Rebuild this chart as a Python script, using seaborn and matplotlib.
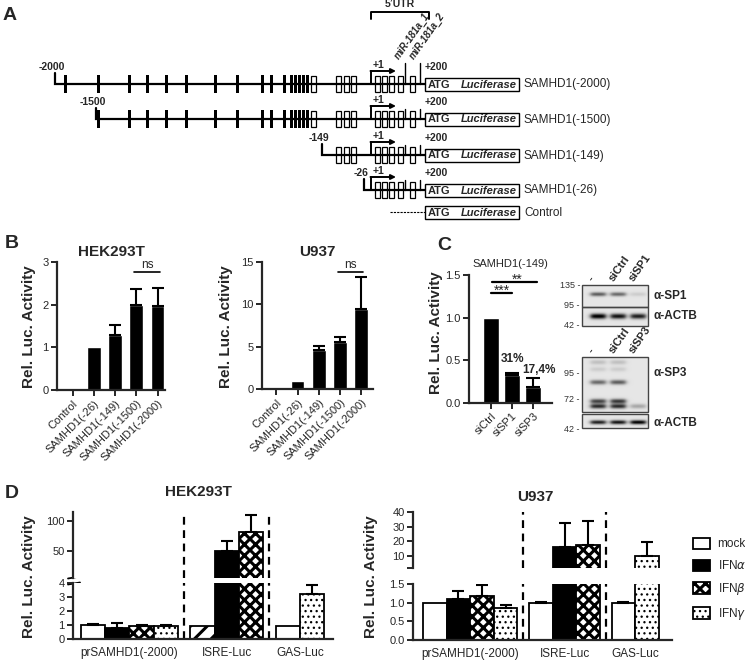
# %%
import numpy as np
import pandas as pd
import matplotlib
matplotlib.use("Agg")
import matplotlib.pyplot as plt
import seaborn as sns
from matplotlib.patches import Rectangle, Patch

# %%
# A - promoter constructs
a_constructs = ["SAMHD1(-2000)", "SAMHD1(-1500)", "SAMHD1(-149)", "SAMHD1(-26)"]
a_start = ["-2000", "-1500", "-149", "-26"]

# B - luciferase activity of the constructs
b_constructs = ["Control", "SAMHD1(-26)", "SAMHD1(-149)", "SAMHD1(-1500)", "SAMHD1(-2000)"]
b_hek = [0.02, 1.0, 1.3, 2.0, 1.98]
b_hek_err = [0.0, 0.0, 0.22, 0.37, 0.4]
b_u937 = [0.15, 0.95, 4.6, 5.55, 9.4]
b_u937_err = [0.0, 0.0, 0.45, 0.55, 3.8]

# C - siRNA knockdown
c_sirna = ["siCtrl", "siSP1", "siSP3"]
c_vals = [1.0, 0.33, 0.19]
c_err = [0.0, 0.02, 0.1]
c_pct = ["", "31%", "17,4%"]

# C - western blots (band intensity per lane)
blot1_lanes = ["-", "siCtrl", "siSP1"]
blot2_lanes = ["-", "siCtrl", "siSP3"]
sp1_int = [[0.55, 0.5, 0.1]]
actb1_int = [[0.95, 0.85, 0.8]]
sp3_int = [[0.15, 0.15, 0.0], [0.1, 0.1, 0.0], [0.5, 0.55, 0.0], [0.65, 0.7, 0.0], [0.75, 0.75, 0.25]]
actb2_int = [[0.8, 0.85, 0.95]]

# D - IFN stimulation
d_groups = ["prSAMHD1(-2000)", "ISRE-Luc", "GAS-Luc"]
d_reporter = ["prSAMHD1(-2000)"] * 4 + ["ISRE-Luc"] * 3 + ["GAS-Luc"] * 2
d_treatment = ["mock", "IFNa", "IFNb", "IFNg", "mock", "IFNa", "IFNb", "mock", "IFNg"]
d_hek = [1.0, 0.82, 0.92, 0.92, 0.95, 50, 82, 0.95, 3.25]
d_hek_err = [0.07, 0.33, 0.06, 0.05, 0.0, 16, 28, 0.0, 0.6]
d_u937 = [1.0, 1.1, 1.17, 0.86, 1.0, 16, 17.5, 1.0, 9.5]
d_u937_err = [0.0, 0.22, 0.3, 0.07, 0.02, 16.5, 16.5, 0.02, 10.2]
legend_labels = ["mock", r"IFN$\alpha$", r"IFN$\beta$", r"IFN$\gamma$"]

# %%
sns.set_style("ticks")
plt.rcParams["font.family"] = ["Liberation Sans", "DejaVu Sans"]
plt.rcParams["hatch.linewidth"] = 2.2

W, H = 745, 662
fig = plt.figure(figsize=(W / 100, H / 100), dpi=100)

def px_axes(x0, y0, x1, y1):
    return fig.add_axes([x0 / W, 1 - y1 / H, (x1 - x0) / W, (y1 - y0) / H])

ov = fig.add_axes([0, 0, 1, 1])
ov.axis("off")

def style_ax(ax):
    for s in ["left", "bottom"]:
        ax.spines[s].set_linewidth(1.6)
    sns.despine(ax=ax)
    ax.tick_params(width=1.4, length=4, labelsize=8, pad=2)
    ax.set_xlabel("")
    ax.set_ylabel("")

def add_err(ax, x, vals, errs, cap=3.5, keep=None):
    x = np.asarray(x, float); v = np.asarray(vals, float); e = np.asarray(errs, float)
    m = e > 0
    if keep is not None:
        m &= keep
    if m.any():
        ax.errorbar(x[m], v[m], yerr=[np.zeros(m.sum()), e[m]], fmt="none", ecolor="black",
                    elinewidth=1.5, capsize=cap, capthick=1.5, zorder=1)

# %% [markdown]
# A - diagram

# %%
rows_y = [84, 119, 155, 190]
start_x = [55, 96, 322, 364]
black_x = [65, 98, 129, 147, 166, 186, 215, 237, 262, 271, 284, 291, 295, 299, 303, 307]
white_x = [313, 338, 346, 353]
utr_x = [377, 384, 391, 400, 412]
mir_x = [405, 420]
luc_x0, luc_x1 = 425, 519
bold = dict(fontweight="bold", fontsize=7.5)

def luc_box(y, label):
    ov.add_patch(Rectangle((luc_x0, y - 6.5), luc_x1 - luc_x0, 13, fc="white", ec="black", lw=1))
    ov.text(luc_x0 + 3, y + 0.5, "ATG", va="center", ha="left", fontweight="bold", fontsize=8)
    ov.text(luc_x1 - 2, y + 0.5, "Luciferase", va="center", ha="right", fontweight="bold",
            fontstyle="italic", fontsize=8)
    ov.text(luc_x1 + 5, y + 0.5, label, va="center", ha="left", fontsize=8.5)

for i, y in enumerate(rows_y):
    sx = start_x[i]
    ov.plot([sx, sx, luc_x0], [y - 11, y, y], color="black", lw=1.6, solid_joinstyle="miter")
    ov.text(sx - 3, y - 12, a_start[i], ha="center", va="bottom", **bold)
    for x in black_x:
        if x > sx:
            ov.add_patch(Rectangle((x - 1.5, y - 9), 3.0, 18, fc="black", ec="none"))
    for x in white_x + utr_x:
        if x > sx:
            ov.add_patch(Rectangle((x - 2.5, y - 8), 5, 16, fc="white", ec="black", lw=0.9))
    top = y - 21 if i == 0 else y - 10
    for x in mir_x:
        ov.plot([x, x], [top, y], color="black", lw=1)
    ov.plot([371, 371], [y, y - 13], color="black", lw=1.4)
    ov.annotate("", xy=(396, y - 13), xytext=(370.5, y - 13),
                arrowprops=dict(arrowstyle="-|>", lw=1.4, color="black", mutation_scale=7,
                                shrinkA=0, shrinkB=0))
    ov.text(373, y - 14, "+1", ha="left", va="bottom", **bold)
    ov.text(luc_x0, y - 12, "+200", ha="left", va="bottom", **bold)
    luc_box(y, a_constructs[i])

ov.plot([390, luc_x0], [212, 212], color="black", lw=0.8, ls=(0, (2, 1)))
luc_box(212, "Control")

ov.plot([371, 371, 429, 429], [19, 12, 12, 19], color="black", lw=1.4)
ov.text(400, 9, "5\u2019UTR", ha="center", va="bottom", **bold)
for x, s in zip(mir_x, ["miR-181a_1", "miR-181a_2"]):
    ov.text(x - 4, 61, s, rotation=55, rotation_mode="anchor", ha="left",
            va="bottom", fontsize=7, fontweight="bold", fontstyle="italic")

# %% [markdown]
# B - bar charts

# %%
def draw_b(box, vals, errs, ylim, yticks, xlim, title):
    ax = px_axes(*box)
    df = pd.DataFrame({"construct": b_constructs, "val": vals})
    sns.barplot(data=df, x="construct", y="val", color="black", saturation=1, width=0.65,
                errorbar=None, ax=ax)
    add_err(ax, range(len(vals)), vals, errs, cap=4)
    ax.set_ylim(*ylim)
    ax.set_yticks(yticks)
    ax.set_xlim(*xlim)
    style_ax(ax)
    ax.set_xticks(range(len(vals)))
    ax.set_xticklabels(b_constructs, rotation=45, ha="right", rotation_mode="anchor")
    ax.set_title(title, fontsize=11, fontweight="bold", pad=4)
    return ax

ax_bh = draw_b((57, 262, 165, 390), b_hek, b_hek_err, (0, 3), [0, 1, 2, 3], (-0.74, 4.35), "HEK293T")
ax_bh.plot([2.9, 4.1], [2.77, 2.77], color="black", lw=1.2)
ax_bh.text(3.5, 2.8, "ns", ha="center", va="bottom", fontsize=8.5)

ax_bu = draw_b((262, 262, 373, 389), b_u937, b_u937_err, (0, 15), [0, 5, 10, 15], (-0.67, 4.55), "U937")
ax_bu.plot([2.9, 4.1], [13.8, 13.8], color="black", lw=1.2)
ax_bu.text(3.5, 13.95, "ns", ha="center", va="bottom", fontsize=8.5)

ylab = dict(fontsize=11, fontweight="bold", rotation=90, ha="center", va="center")
ov.text(29, 327, "Rel. Luc. Activity", **ylab)
ov.text(226, 327, "Rel. Luc. Activity", **ylab)

# %% [markdown]
# C - siRNA + blots

# %%
ax_c = px_axes(469, 275, 552, 403)
dfc = pd.DataFrame({"sirna": c_sirna, "val": c_vals})
sns.barplot(data=dfc, x="sirna", y="val", color="black", saturation=1, width=0.8, errorbar=None, ax=ax_c)
add_err(ax_c, range(3), c_vals, c_err, cap=5)
ax_c.set_ylim(0, 1.5)
ax_c.set_yticks([0, 0.5, 1.0, 1.5])
ax_c.set_yticklabels(["0.0", "0.5", "1.0", "1.5"])
ax_c.set_xlim(-1.05, 2.9)
style_ax(ax_c)
ax_c.set_xticks(range(3))
ax_c.set_xticklabels(c_sirna, rotation=45, ha="right", rotation_mode="anchor")
ax_c.set_title("SAMHD1(-149)", fontsize=8, pad=6)
pct = dict(fontsize=8.5, fontweight="bold", va="bottom")
ax_c.text(1, c_vals[1] + c_err[1] + 0.1, c_pct[1], ha="center", **pct)
ax_c.text(2.3, c_vals[2] + c_err[2] + 0.03, c_pct[2], ha="center", **pct)
ax_c.plot([0, 1], [1.29, 1.29], color="black", lw=1.6, clip_on=False)
ax_c.text(0.5, 1.27, "***", ha="center", va="baseline", fontsize=10, clip_on=False)
ax_c.plot([0.05, 2.2], [1.42, 1.42], color="black", lw=1.6, clip_on=False)
ax_c.text(1.25, 1.40, "**", ha="center", va="baseline", fontsize=10, clip_on=False)
ov.text(436, 333, "Rel. Luc. Activity", **ylab)

def blot(x0, x1, y0, y1, band_y, ints, sig):
    xs = np.arange(x0, x1, 0.5)
    ys = np.arange(y0, y1, 0.5)
    X, Y = np.meshgrid(xs, ys)
    img = np.full(X.shape, 0.1)
    for yc, row in zip(band_y, ints):
        for j, v in enumerate(row):
            xc = x0 + 16 + 20 * j
            px = 1 / (1 + np.exp((np.abs(X - xc) - 7.5) / 1.3))
            img += v * np.exp(-((Y - yc) / sig) ** 2) * px
    ov.imshow(np.clip(img, 0, 1), cmap="gray_r", vmin=0, vmax=1, extent=(x0, x1, y1, y0),
              aspect="auto", interpolation="bilinear")
    ov.add_patch(Rectangle((x0, y0), x1 - x0, y1 - y0, fill=False, ec="#444444", lw=1))

blot(582, 648, 285, 307, [294], sp1_int, 2.0)
blot(582, 648, 307, 326, [316], actb1_int, 2.6)
blot(582, 648, 357, 412, [362, 369, 382, 401, 406], sp3_int, 2.3)
blot(582, 648, 414, 428, [422], actb2_int, 2.0)

mk = dict(fontsize=6.5, ha="right", va="center", color="#333333")
for y, s in [(285, "135 -"), (305, "95 -"), (326, "42 -"), (373, "95 -"), (400, "72 -"), (430, "42 -")]:
    ov.text(580, y, s, **mk)
for j, s in enumerate(blot1_lanes):
    ov.text(582 + 16 + 20 * j - 3, 283, s, rotation=55, rotation_mode="anchor", ha="left",
            va="bottom", fontsize=8, fontweight="bold")
for j, s in enumerate(blot2_lanes):
    ov.text(582 + 16 + 20 * j - 3, 355, s, rotation=55, rotation_mode="anchor", ha="left",
            va="bottom", fontsize=8, fontweight="bold")
ab = dict(fontsize=8.5, fontweight="bold", ha="left", va="center")
ov.text(653, 296, "\u03b1-SP1", **ab)
ov.text(653, 316, "\u03b1-ACTB", **ab)
ov.text(653, 373, "\u03b1-SP3", **ab)
ov.text(653, 423, "\u03b1-ACTB", **ab)

# %% [markdown]
# D - IFN stimulation, broken y axis

# %%
styles = {
    "mock": ("white", ""),
    "IFNa": ("black", ""),
    "IFNb": ("white", "xxx"),
    "IFNg": ("white", "..."),
    "stripe": ("white", "//"),
}
group_idx = np.array([d_groups.index(r) for r in d_reporter])
pos = np.arange(len(d_reporter)) + 0.5 * group_idx
centers = [pos[group_idx == g].mean() for g in range(len(d_groups))]
seps = [(pos[group_idx == g].max() + pos[group_idx == g + 1].min()) / 2 for g in range(len(d_groups) - 1)]

def set_style(p, key):
    fc, hatch = styles[key]
    p.set_facecolor(fc)
    p.set_edgecolor("black")
    p.set_hatch(hatch)
    if hasattr(p, "set_hatch_linewidth"):
        p.set_hatch_linewidth(0.9 if hatch == "..." else 2.2)

def draw_d(top_box, bot_box, vals, errs, keys, xlim, top_lim, top_ticks, top_labels,
           bot_lim, bot_ticks, bot_labels):
    ax_t = px_axes(*top_box)
    ax_b = px_axes(*bot_box)
    df = pd.DataFrame({"pos": pos, "val": vals})
    v = np.asarray(vals, float)
    for ax, keep in ((ax_t, v >= top_lim[0]), (ax_b, v <= bot_lim[1])):
        sns.barplot(data=df, x="pos", y="val", native_scale=True, width=1, color="white",
                    saturation=1, errorbar=None, linewidth=1.3, edgecolor="black", ax=ax)
        for p, k, val in zip(ax.patches, keys, v):
            set_style(p, k)
            if ax is ax_t and val < top_lim[0]:
                p.set_visible(False)
        add_err(ax, pos, vals, errs, cap=4, keep=keep)
        for s in seps:
            ax.axvline(s, color="black", lw=1.6, ls=(0, (3.5, 2.5)))
        ax.set_xlim(*xlim)
        style_ax(ax)
    ax_t.set_ylim(*top_lim)
    ax_t.set_yticks(top_ticks)
    ax_t.set_yticklabels(top_labels)
    ax_t.spines["bottom"].set_visible(False)
    ax_t.tick_params(axis="x", bottom=False, labelbottom=False)
    ax_b.set_ylim(*bot_lim)
    ax_b.set_yticks(bot_ticks)
    ax_b.set_yticklabels(bot_labels)
    ax_b.set_xticks(centers)
    ax_b.set_xticklabels(d_groups, fontsize=8.5)
    ax_b.tick_params(axis="x", length=0, pad=6)
    return ax_t, ax_b

hek_keys = list(d_treatment)
hek_keys[4] = "stripe"
draw_d((73, 512, 333, 578), (73, 583, 333, 639), d_hek, d_hek_err, hek_keys, (-0.82, 9.86),
       (5, 115), [50, 100], ["50", "100"], (0, 4), [0, 1, 2, 3, 4], ["0", "1", "2", "3", "4"])
draw_d((413, 512, 672, 568), (413, 584, 672, 640), d_u937, d_u937_err, d_treatment, (-0.93, 10.06),
       (1.5, 40), [1.5, 10, 20, 30, 40], ["", "10", "20", "30", "40"],
       (0, 1.5), [0, 0.5, 1.0, 1.5], ["0.0", "0.5", "1.0", "1.5"])

for yy in (577.5, 583.5):
    ov.plot([68, 80], [yy + 1, yy - 1], color="black", lw=1.3)

ov.text(198, 492, "HEK293T", fontsize=11, fontweight="bold", ha="center", va="center")
ov.text(535, 497, "U937", fontsize=11, fontweight="bold", ha="center", va="center")
ov.text(29, 577, "Rel. Luc. Activity", **ylab)
ov.text(371, 577, "Rel. Luc. Activity", **ylab)

legend_keys = ["mock", "IFNa", "IFNb", "IFNg"]
handles = []
for k in legend_keys:
    h = Patch(lw=1.3)
    set_style(h, k)
    handles.append(h)
leg = fig.legend(handles, legend_labels, loc="upper left", bbox_to_anchor=(688 / W, 1 - 533 / H),
                 frameon=False, fontsize=8.5, handlelength=1.5, handleheight=1.1, labelspacing=0.75,
                 handletextpad=0.6, borderaxespad=0)
for h, k in zip(leg.legend_handles, legend_keys):
    set_style(h, k)
    h.set_linewidth(1.3)

# %%
pl = dict(fontsize=14, fontweight="bold", ha="left", va="center")
ov.text(3, 16, "A", **pl)
ov.text(5, 244, "B", **pl)
ov.text(437, 246, "C", **pl)
ov.text(5, 494, "D", **pl)

ov.set_xlim(0, W)
ov.set_ylim(H, 0)
fig.savefig("out.png", dpi=100)
